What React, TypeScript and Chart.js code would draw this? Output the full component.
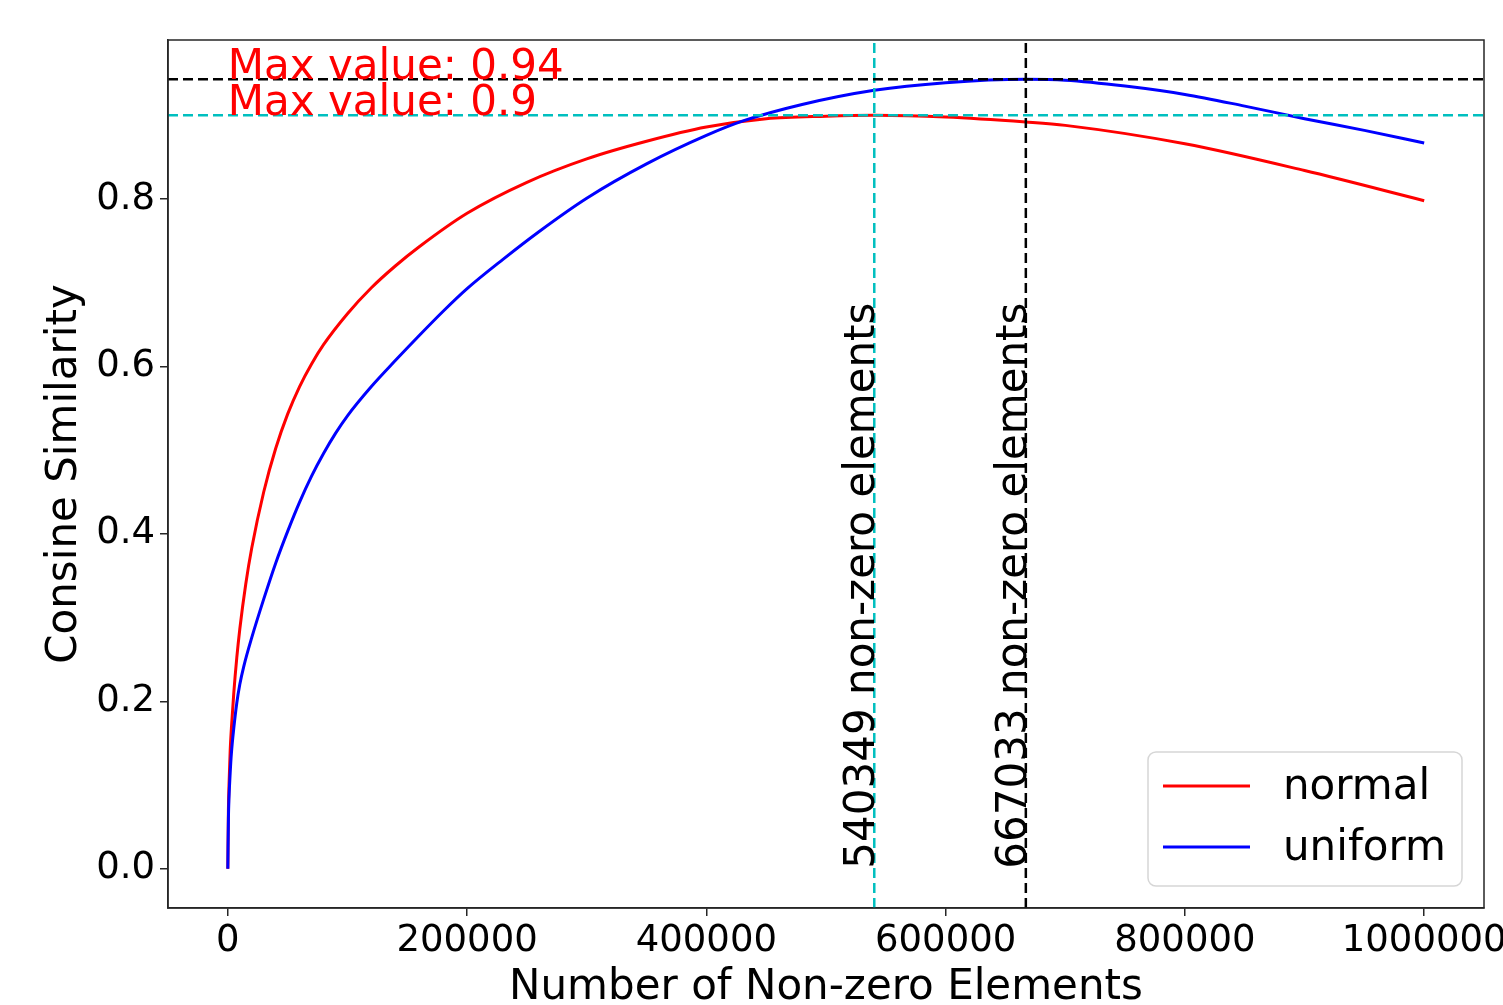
import React, { useEffect, useRef } from "react";
import { Chart, registerables } from "chart.js";

Chart.register(...registerables);

// ---- data ----
const X_NORMAL = [0, 500, 1000, 2000, 3000, 5000, 7500, 10000, 15000, 20000, 30000, 40000, 50000, 60000, 70000, 80000, 100000, 120000, 140000, 160000, 200000, 250000, 300000, 350000, 400000, 450000, 500000, 540349, 600000, 667033, 700000, 800000, 900000, 1000000];
const Y_NORMAL = [0, 0.07, 0.1, 0.142, 0.168, 0.21, 0.252, 0.286, 0.34, 0.383, 0.45, 0.502, 0.543, 0.576, 0.603, 0.626, 0.663, 0.694, 0.72, 0.743, 0.783, 0.82, 0.848, 0.869, 0.886, 0.896, 0.899, 0.9, 0.898, 0.892, 0.888, 0.866, 0.834, 0.798];

const X_UNIFORM = [0, 500, 1000, 2000, 3000, 5000, 7500, 10000, 13400, 20000, 30000, 40000, 50000, 60000, 70000, 80000, 90000, 100000, 120000, 140000, 160000, 180000, 200000, 230000, 260000, 300000, 350000, 400000, 430000, 480000, 540349, 600000, 667033, 700000, 750000, 800000, 850000, 900000, 950000, 1000000];
const Y_UNIFORM = [0, 0.06, 0.085, 0.115, 0.138, 0.168, 0.198, 0.22, 0.242, 0.276, 0.322, 0.365, 0.403, 0.438, 0.469, 0.496, 0.52, 0.541, 0.576, 0.607, 0.637, 0.666, 0.693, 0.728, 0.761, 0.801, 0.842, 0.876, 0.893, 0.913, 0.93, 0.939, 0.943, 0.942, 0.935, 0.925, 0.911, 0.896, 0.882, 0.867];

const SERIES_LABELS = ["normal", "uniform"];
const SERIES_COLORS = ["#ff0000", "#0000ff"];

// max-value reference lines
const MAX_VALUES = [0.943, 0.9];
const MAX_COLORS = ["#000000", "#00bfbf"];
const MAX_POSITIONS = [667033, 540349];

const X_MIN = -50000;
const X_MAX = 1050000;
const Y_MIN = -0.047;
const Y_MAX = 0.99;

const X_TICKS = [0, 200000, 400000, 600000, 800000, 1000000];
const Y_TICKS = [0, 0.2, 0.4, 0.6, 0.8];

const X_TITLE = "Number of Non-zero Elements";
const Y_TITLE = "Consine Similarity";

const FONT = '"DejaVu Sans", "Liberation Sans", sans-serif';
const AXIS_COLOR = "#262626";

const toPts = (xs: number[], ys: number[]) => xs.map((x, i) => ({ x, y: ys[i] }));

const annotationPlugin = {
  id: "annotations",
  afterDatasetsDraw(chart: any) {
    const { ctx, scales } = chart;
    const xs = scales.x;
    const ys = scales.y;
    ctx.save();
    ctx.font = `42px ${FONT}`;
    ctx.fillStyle = "#ff0000";
    ctx.textAlign = "left";
    ctx.textBaseline = "alphabetic";
    MAX_VALUES.forEach((v) => {
      const label = "Max value: " + String(Math.round(v * 100) / 100);
      ctx.fillText(label, xs.getPixelForValue(0), ys.getPixelForValue(v));
    });
    ctx.fillStyle = "#000000";
    MAX_POSITIONS.forEach((p) => {
      ctx.save();
      ctx.translate(xs.getPixelForValue(p), ys.getPixelForValue(0));
      ctx.rotate(-Math.PI / 2);
      ctx.fillText(`${p} non-zero elements`, 0, 0);
      ctx.restore();
    });
    ctx.restore();
  },
  afterDraw(chart: any) {
    const { ctx, chartArea: a } = chart;
    ctx.save();
    ctx.strokeStyle = AXIS_COLOR;
    ctx.lineWidth = 1.5;
    ctx.strokeRect(a.left, a.top, a.right - a.left, a.bottom - a.top);

    // legend
    const w = 314;
    const h = 134;
    const lx = a.right - 22 - w;
    const ly = a.bottom - 22 - h;
    const r = 8;
    ctx.beginPath();
    ctx.moveTo(lx + r, ly);
    ctx.lineTo(lx + w - r, ly);
    ctx.arcTo(lx + w, ly, lx + w, ly + r, r);
    ctx.lineTo(lx + w, ly + h - r);
    ctx.arcTo(lx + w, ly + h, lx + w - r, ly + h, r);
    ctx.lineTo(lx + r, ly + h);
    ctx.arcTo(lx, ly + h, lx, ly + h - r, r);
    ctx.lineTo(lx, ly + r);
    ctx.arcTo(lx, ly, lx + r, ly, r);
    ctx.closePath();
    ctx.fillStyle = "rgba(255,255,255,0.8)";
    ctx.fill();
    ctx.strokeStyle = "#d6d6d6";
    ctx.lineWidth = 1.5;
    ctx.stroke();

    ctx.font = `42px ${FONT}`;
    ctx.textAlign = "left";
    ctx.textBaseline = "middle";
    SERIES_LABELS.forEach((lab, i) => {
      const y = ly + 34 + i * 61;
      ctx.strokeStyle = SERIES_COLORS[i];
      ctx.lineWidth = 3;
      ctx.beginPath();
      ctx.moveTo(lx + 15, y);
      ctx.lineTo(lx + 102, y);
      ctx.stroke();
      ctx.fillStyle = "#000000";
      ctx.fillText(lab, lx + 135, y + 2);
    });
    ctx.restore();
  },
};

export default function App() {
  const canvasRef = useRef<HTMLCanvasElement | null>(null);

  useEffect(() => {
    if (!canvasRef.current) return;
    const refLineDatasets: any[] = [];
    MAX_VALUES.forEach((v, i) => {
      refLineDatasets.push({
        label: "hline" + i,
        data: [
          { x: X_MIN, y: v },
          { x: X_MAX, y: v },
        ],
        borderColor: MAX_COLORS[i],
        borderWidth: 2.5,
        borderDash: [10, 5],
        pointRadius: 0,
        order: 0,
      });
      refLineDatasets.push({
        label: "vline" + i,
        data: [
          { x: MAX_POSITIONS[i], y: Y_MIN },
          { x: MAX_POSITIONS[i], y: Y_MAX },
        ],
        borderColor: MAX_COLORS[i],
        borderWidth: 2.5,
        borderDash: [10, 5],
        pointRadius: 0,
        order: 0,
      });
    });

    const chart = new Chart(canvasRef.current, {
      type: "line",
      data: {
        datasets: [
          {
            label: SERIES_LABELS[0],
            data: toPts(X_NORMAL, Y_NORMAL),
            borderColor: SERIES_COLORS[0],
            borderWidth: 3,
            pointRadius: 0,
            cubicInterpolationMode: "monotone",
            order: 2,
          },
          {
            label: SERIES_LABELS[1],
            data: toPts(X_UNIFORM, Y_UNIFORM),
            borderColor: SERIES_COLORS[1],
            borderWidth: 3,
            pointRadius: 0,
            cubicInterpolationMode: "monotone",
            order: 1,
          },
          ...refLineDatasets,
        ],
      },
      options: {
        animation: false,
        responsive: false,
        devicePixelRatio: 1,
        layout: { padding: { top: 40, right: 19, left: 0, bottom: 0 } },
        plugins: {
          legend: { display: false },
          tooltip: { enabled: false },
        },
        scales: {
          x: {
            type: "linear",
            min: X_MIN,
            max: X_MAX,
            afterBuildTicks: (scale: any) => {
              scale.ticks = X_TICKS.map((v) => ({ value: v }));
            },
            afterFit: (scale: any) => {
              scale.height = 97;
              scale.paddingLeft = 0;
              scale.paddingRight = 0;
            },
            grid: {
              display: true,
              drawOnChartArea: false,
              drawTicks: true,
              tickLength: 8,
              color: AXIS_COLOR,
              lineWidth: 1.5,
            },
            border: { display: true, color: AXIS_COLOR, width: 1.5 },
            ticks: {
              autoSkip: false,
              maxRotation: 0,
              padding: 3,
              color: "#000000",
              font: { family: FONT, size: 37 },
              callback: (v: any) => String(v),
            },
            title: {
              display: true,
              text: X_TITLE,
              color: "#000000",
              font: { family: FONT, size: 42, lineHeight: 1.2 },
              padding: { top: 0, bottom: -8 },
            },
          },
          y: {
            type: "linear",
            min: Y_MIN,
            max: Y_MAX,
            afterBuildTicks: (scale: any) => {
              scale.ticks = Y_TICKS.map((v) => ({ value: v }));
            },
            afterFit: (scale: any) => {
              scale.width = 168;
            },
            grid: {
              display: true,
              drawOnChartArea: false,
              drawTicks: true,
              tickLength: 8,
              color: AXIS_COLOR,
              lineWidth: 1.5,
            },
            border: { display: true, color: AXIS_COLOR, width: 1.5 },
            ticks: {
              padding: 5,
              color: "#000000",
              font: { family: FONT, size: 37 },
              callback: (v: any) => Number(v).toFixed(1),
            },
            title: {
              display: true,
              text: Y_TITLE,
              color: "#000000",
              font: { family: FONT, size: 42, lineHeight: 1.2 },
              padding: { top: 40, bottom: 0 },
            },
          },
        },
      },
      plugins: [annotationPlugin],
    } as any);
    return () => chart.destroy();
  }, []);

  return (
    <div style={{ position: "absolute", left: 0, top: 0, width: 1503, height: 1005, background: "#fff" }}>
      <canvas ref={canvasRef} width={1503} height={1005} style={{ display: "block" }} />
    </div>
  );
}
